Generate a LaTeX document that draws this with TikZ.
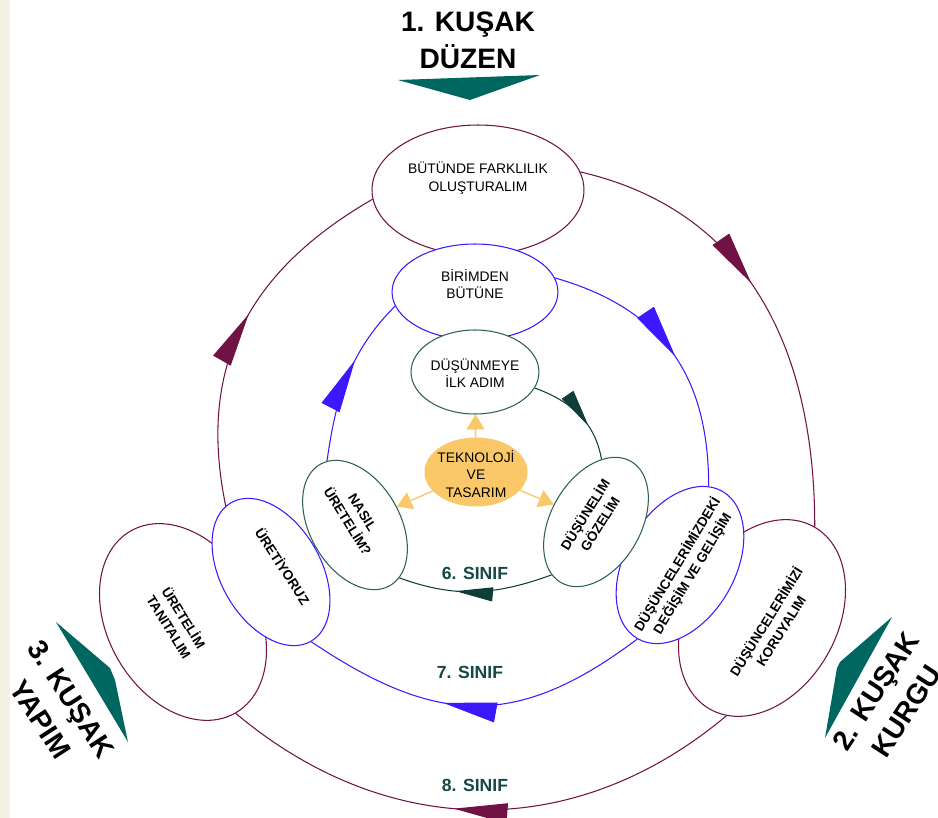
\documentclass[tikz,border=0pt]{standalone}
\usepackage{fontspec}
\setsansfont{Liberation Sans}
\usetikzlibrary{arrows.meta,shapes.geometric,decorations.markings}

\pgfdeclarelayer{background}
\pgfsetlayers{background,main}

\definecolor{sekizrenk}{RGB}{112,18,68}
\definecolor{yedirenk}{RGB}{60,24,255}
\definecolor{altirenk}{RGB}{45,95,88}
\definecolor{koyuteal}{RGB}{15,62,58}
\definecolor{kusakyesil}{RGB}{0,103,96}
\definecolor{altin}{RGB}{250,200,104}
\definecolor{kenar}{RGB}{243,241,228}
\definecolor{sinifyazi}{RGB}{22,70,70}

\begin{document}
\begin{tikzpicture}[
    x=0.02cm, y=0.02cm,
    font=\sffamily,
    yuvarlak/.style={draw, ellipse, fill=white, line width=0.6pt, inner sep=0pt},
    yazi/.style={font=\sffamily\fontsize{7.9}{10}\selectfont, align=center, inner sep=0pt},
    donukyazi/.style={font=\sffamily\bfseries\fontsize{7.7}{10}\selectfont, align=center, inner sep=0pt},
    kusakyazi/.style={font=\sffamily\bfseries\fontsize{16}{21}\selectfont, align=center, inner sep=0pt},
    sinif/.style={font=\sffamily\bfseries\fontsize{10}{12}\selectfont, text=sinifyazi, inner sep=0pt},
    halka/.style={line width=0.6pt},
    buyukok/.style={postaction={decorate}, decoration={markings, mark=at position #1 with {\arrow{Triangle[length=1.07cm, width=0.4cm]}}}},
    kucukok/.style={postaction={decorate}, decoration={markings, mark=at position #1 with {\arrow{Triangle[length=0.75cm, width=0.28cm]}}}},
    altinok/.style={-{Triangle[length=0.3cm, width=0.36cm]}, draw=altin, line width=0.8pt}
]
\useasboundingbox (0,0) rectangle (938,-818);

% 8. sinif halkasi
\node[yuvarlak, draw=sekizrenk, minimum width=4.24cm, minimum height=2.6cm] (butunde) at (478,-190) {};
\node[yuvarlak, draw=sekizrenk, minimum width=4.2cm, minimum height=3cm, rotate=60] (koruyalim) at (762,-618) {};
\node[yuvarlak, draw=sekizrenk, minimum width=4.2cm, minimum height=3cm, rotate=-60] (tanitalim) at (183,-622) {};

% 7. sinif halkasi
\node[yuvarlak, draw=yedirenk, minimum width=3.32cm, minimum height=1.92cm] (birimden) at (475,-292) {};
\node[yuvarlak, draw=yedirenk, minimum width=3.4cm, minimum height=2.2cm, rotate=60] (degisim) at (680,-565) {};
\node[yuvarlak, draw=yedirenk, minimum width=3.2cm, minimum height=2cm, rotate=-60] (uretiyoruz) at (271,-572) {};

% 6. sinif halkasi
\node[yuvarlak, draw=altirenk, minimum width=2.56cm, minimum height=1.68cm] (dusunmeye) at (475,-372) {};
\node[yuvarlak, draw=altirenk, minimum width=2.8cm, minimum height=1.8cm, rotate=-60] (nasil) at (355,-525) {};
\node[yuvarlak, draw=altirenk, minimum width=2.8cm, minimum height=1.8cm, rotate=60] (gozelim) at (596,-522) {};

\node[yuvarlak, draw=altin, fill=altin, minimum width=2.04cm, minimum height=1.36cm] (teknoloji) at (476,-472) {};

% yazilar
\node[yazi] (butundeyazi) at (478,-178) {BÜTÜNDE FARKLILIK\\OLUŞTURALIM};
\node[yazi] (birimdenyazi) at (475,-284) {BİRİMDEN\\BÜTÜNE};
\node[yazi] (dusunmeyeyazi) at (475,-373) {DÜŞÜNMEYE\\İLK ADIM};
\node[yazi] (teknolojiyazi) at (476,-474) {TEKNOLOJİ\\VE\\TASARIM};
\node[donukyazi, rotate=-58] (nasilyazi) at (355,-517) {NASIL\\ÜRETELİM?};
\node[donukyazi, rotate=58] (gozelimyazi) at (592,-519) {DÜŞÜNELİM\\GÖZELİM};
\node[donukyazi, rotate=59] (degisimyazi) at (685,-569) {DÜŞÜNCELERİMİZDEKİ\\DEĞİŞİM VE GELİŞİM};
\node[donukyazi, rotate=-57] (uretiyoruzyazi) at (283,-566) {ÜRETİYORUZ};
\node[donukyazi, rotate=58] (koruyalimyazi) at (773,-626) {DÜŞÜNCELERİMİZİ\\KORUYALIM};
\node[donukyazi, rotate=-58] (tanitalimyazi) at (177,-622) {ÜRETELİM\\TANITALIM};

\draw[altinok] (teknoloji) -- (dusunmeye);
\draw[altinok] (teknoloji) -- (nasil);
\draw[altinok] (teknoloji) -- (gozelim);

\node[sinif] (altisinif) at (475,-573) {6. SINIF};
\node[sinif] (yedisinif) at (470,-672) {7. SINIF};
\node[sinif] (sekizsinif) at (475,-785) {8. SINIF};

% kusaklar
\fill[kusakyesil] (398,-80) -- (540,-75) -- (470,-100) -- cycle;
\fill[kusakyesil] (892,-617) -- (840,-662) -- (837,-668) -- (825,-738) -- cycle;
\fill[kusakyesil] (56,-622) -- (110,-668) -- (115,-680) -- (128,-742) -- cycle;
\node[kusakyazi] (kusakbir) at (468,-40) {1. KUŞAK\\DÜZEN};
\node[kusakyazi, rotate=57] (kusakiki) at (891,-701) {2. KUŞAK\\KURGU};
\node[kusakyazi, rotate=-57] (kusakuc) at (56,-709) {3. KUŞAK\\YAPIM};

\begin{pgfonlayer}{background}
\fill[kenar] (0,0) rectangle (10,-818);
\draw[halka, sekizrenk, buyukok=0.45] (butunde.10) to[out=-13, in=90, looseness=1.05] (koruyalim.east);
\draw[halka, sekizrenk, buyukok=0.55] (koruyalim.190) to[out=220, in=-40, looseness=1.03] (tanitalim.east);
\draw[halka, sekizrenk, buyukok=0.62] (tanitalim.north) to[out=110, in=210, looseness=1.15] (butunde.185);
\draw[halka, yedirenk, buyukok=0.52] (birimden.10) to[out=-16, in=90, looseness=1.1] (degisim.10);
\draw[halka, yedirenk, buyukok=0.59] (degisim.west) to[out=217, in=-34, looseness=1.18] (uretiyoruz.east);
\draw[halka, yedirenk, buyukok=0.74] (uretiyoruz.north) to[out=80, in=225] (birimden.190);
\draw[halka, koyuteal, kucukok=0.65] (dusunmeye.-15) to[out=-20, in=100] (gozelim.25);
\draw[halka, koyuteal, kucukok=0.63] (gozelim.170) to[out=200, in=-20] (nasil.10);
\end{pgfonlayer}
\end{tikzpicture}
\end{document}
